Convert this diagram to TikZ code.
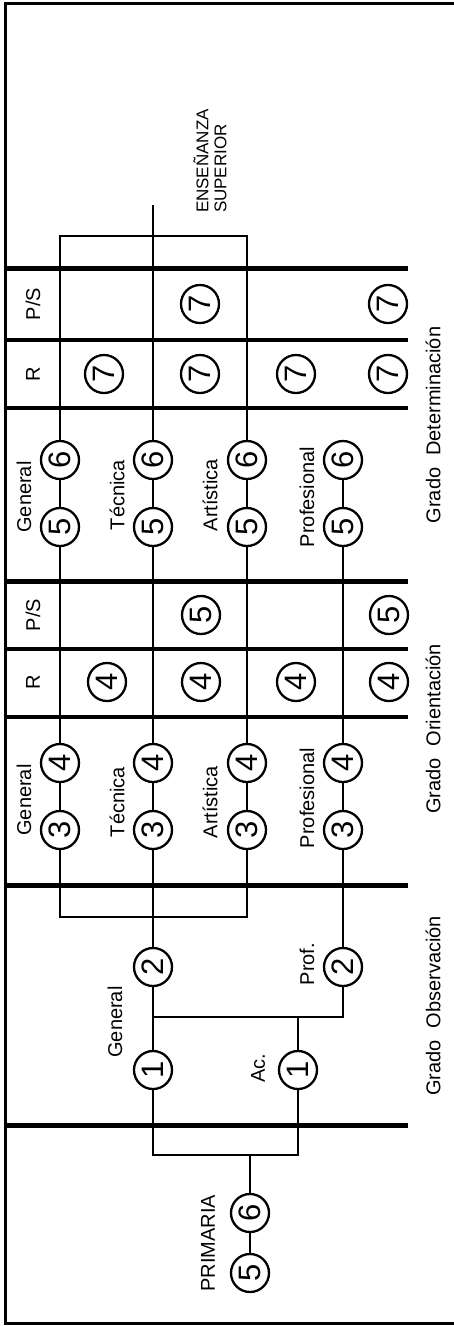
\documentclass[tikz,border=0pt]{standalone}
\usepackage{fontspec}
\setmainfont{Liberation Sans}
\begin{document}
\begin{tikzpicture}[x=1pt,y=-1pt,
  num/.style={circle,draw,line width=2.3pt,minimum size=38pt,inner sep=0pt,
    font=\fontsize{31}{31}\selectfont,rotate=90,fill=white},
  lbl/.style={font=\fontsize{20}{22}\selectfont,rotate=90,inner sep=0pt},
  lane/.style={line width=2pt},
  sepA/.style={line width=5pt},
  sepB/.style={line width=3.5pt},
  frame/.style={line width=3pt}]
\useasboundingbox (0,0) rectangle (454,1326);
% frame
\draw[frame] (454,3) -- (5,3) -- (5,1323) -- (454,1323);
% separators
\foreach \yy in {268,581,885,1125} {\draw[sepA] (5,\yy) -- (408,\yy);}
\foreach \yy in {340,408,649,717} {\draw[sepB] (5,\yy) -- (408,\yy);}
% nodes
\node[num] (p5) at (250,1273) {5};
\node[num] (p6) at (250,1213) {6};
\coordinate (jp) at (250,1155);
\coordinate (jpl) at (153,1155);
\coordinate (jpr) at (298,1155);
\node[num] (g1) at (153,1070) {1};
\node[num] (a1) at (298,1070) {1};
\coordinate (j1m) at (298,1017);
\coordinate (j1l) at (153,1017);
\coordinate (j1r) at (343,1017);
\node[num] (g2) at (153,967) {2};
\node[num] (r2) at (343,967) {2};
\coordinate (j2l) at (60,917);
\coordinate (j2r) at (247,917);
\node[num] (g3) at (60,830) {3};
\node[num] (t3) at (153,830) {3};
\node[num] (a3) at (247,830) {3};
\node[num] (f3) at (343,830) {3};
\node[num] (g4) at (60,763) {4};
\node[num] (t4) at (153,763) {4};
\node[num] (a4) at (247,763) {4};
\node[num] (f4) at (343,763) {4};
\node[num] (r4a) at (107,682) {4};
\node[num] (r4b) at (201,682) {4};
\node[num] (r4c) at (296,682) {4};
\node[num] (r4d) at (389,682) {4};
\node[num] (s5a) at (201,615) {5};
\node[num] (s5b) at (389,615) {5};
\node[num] (g5) at (60,527) {5};
\node[num] (t5) at (153,527) {5};
\node[num] (a5) at (247,527) {5};
\node[num] (f5) at (343,527) {5};
\node[num] (g6) at (60,460) {6};
\node[num] (t6) at (153,460) {6};
\node[num] (a6) at (247,460) {6};
\node[num] (f6) at (343,460) {6};
\node[num] (r7a) at (104,374) {7};
\node[num] (r7b) at (200,374) {7};
\node[num] (r7c) at (296,374) {7};
\node[num] (r7d) at (388,374) {7};
\node[num] (s7a) at (200,304) {7};
\node[num] (s7b) at (388,304) {7};
\coordinate (tl) at (60,236);
\coordinate (tr) at (247,236);
\coordinate (tm) at (153,205);
% connectors
\draw[lane] (p5) -- (p6);
\draw[lane] (p6) -- (jp);
\draw[lane] (g1) -- (jpl) -- (jpr) -- (a1);
\draw[lane] (g1) -- (g2);
\draw[lane] (a1) -- (j1m);
\draw[lane] (j1l) -- (j1r) -- (r2);
\draw[lane] (g2) -- (t3);
\draw[lane] (g3) -- (j2l) -- (j2r) -- (a3);
\draw[lane] (r2) -- (f3);
\draw[lane] (g3) -- (g4);
\draw[lane] (t3) -- (t4);
\draw[lane] (a3) -- (a4);
\draw[lane] (f3) -- (f4);
\draw[lane] (g4) -- (g5);
\draw[lane] (t4) -- (t5);
\draw[lane] (a4) -- (a5);
\draw[lane] (f4) -- (f5);
\draw[lane] (g5) -- (g6);
\draw[lane] (t5) -- (t6);
\draw[lane] (a5) -- (a6);
\draw[lane] (f5) -- (f6);
\draw[lane] (g6) -- (tl) -- (tr) -- (a6);
\draw[lane] (t6) -- (tm);
% labels
\node[lbl] (lprim) at (208,1243) {PRIMARIA};
\node[lbl] (lgen1) at (115,1022) {General};
\node[lbl] (lac) at (258,1068) {Ac.};
\node[lbl] (lprof) at (307,964) {Prof.};
\node[lbl] (lr1) at (33,682) {R};
\node[lbl] (lps1) at (33,615) {P/S};
\node[lbl] (lr2) at (33,374) {R};
\node[lbl] (lps2) at (33,304) {P/S};
\node[lbl] (lgen3) at (24,800) {General};
\node[lbl] (ltec3) at (117,802) {Técnica};
\node[lbl] (lart3) at (210,802) {Artística};
\node[lbl] (lpro3) at (307,798) {Profesional};
\node[lbl] (lgen5) at (24,497) {General};
\node[lbl] (ltec5) at (117,495) {Técnica};
\node[lbl] (lart5) at (210,495) {Artística};
\node[lbl] (lpro5) at (307,497) {Profesional};
\node[lbl] (gobs) at (433,1006) {Grado\hspace{0.6em}Observación};
\node[lbl] (gori) at (433,729) {Grado\hspace{0.6em}Orientación};
\node[lbl] (gdet) at (433,425) {Grado\hspace{0.6em}Determinación};
\node[rotate=90,align=left,inner sep=0pt,font=\fontsize{17}{18}\selectfont] (sup) at (210,161) {ENSEÑANZA\\SUPERIOR};
\end{tikzpicture}
\end{document}
